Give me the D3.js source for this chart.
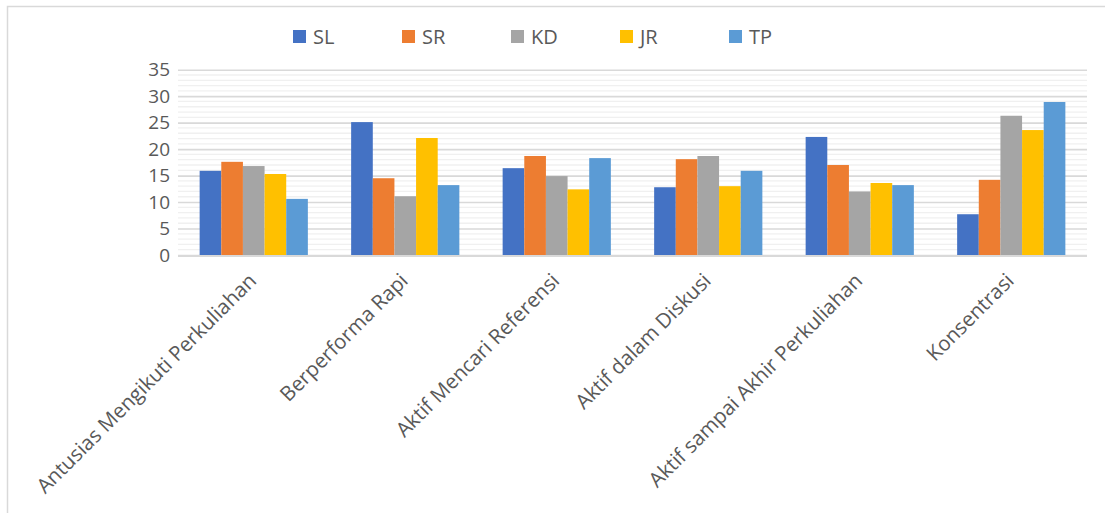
<!DOCTYPE html>
<html>
<head>
<meta charset="utf-8">
<script src="https://cdn.jsdelivr.net/npm/d3@7"></script>
<style>
  html, body { margin: 0; padding: 0; background: #fff; }
  svg { display: block; }
  text { font-family: "Open Sans", "Noto Sans", sans-serif; fill: #595959; }
</style>
</head>
<body>
<svg id="chart" width="1105" height="513"></svg>
<script>
// Aspects observed and the five groups scored for each
const categories = [
  "Antusias Mengikuti Perkuliahan",
  "Berperforma Rapi",
  "Aktif Mencari Referensi",
  "Aktif dalam Diskusi",
  "Aktif sampai Akhir Perkuliahan",
  "Konsentrasi"
];
const seriesNames = ["SL", "SR", "KD", "JR", "TP"];
const SL = [15.9, 25.1, 16.4, 12.8, 22.3, 7.7];
const SR = [17.6, 14.5, 18.7, 18.1, 17.0, 14.2];
const KD = [16.8, 11.1, 14.9, 18.7, 12.0, 26.3];
const JR = [15.3, 22.1, 12.4, 13.0, 13.6, 23.6];
const TP = [10.6, 13.2, 18.3, 15.9, 13.2, 28.9];
const yTicks = [0, 5, 10, 15, 20, 25, 30, 35];
const colors = ["#4472C4", "#ED7D31", "#A5A5A5", "#FFC000", "#5B9BD5"];

const seriesValues = [SL, SR, KD, JR, TP];
const rows = categories.map((c, i) => {
  const r = { category: c };
  seriesNames.forEach((s, j) => { r[s] = seriesValues[j][i]; });
  return r;
});

const svg = d3.select("#chart");
const plot = { left: 178, right: 1087, top: 69.7, bottom: 255 };

// outer frame (top and left edges)
svg.append("path")
  .attr("d", "M7.5,513 L7.5,6.5 L1105,6.5")
  .attr("fill", "none").attr("stroke", "#d9d9d9").attr("stroke-width", 1.5);

const x0 = d3.scaleBand().domain(categories).range([plot.left, plot.right]).padding(0);
const bw = x0.bandwidth();
const x1 = d3.scaleBand().domain(seriesNames).range([bw / 7, bw * 6 / 7]).padding(0);
const y = d3.scaleLinear().domain([0, 35]).range([plot.bottom, plot.top]);
const color = d3.scaleOrdinal().domain(seriesNames).range(colors);

// minor gridlines every 1 unit
svg.append("g")
  .selectAll("line")
  .data(d3.range(1, 35).filter(v => v % 5 !== 0))
  .join("line")
  .attr("x1", plot.left).attr("x2", plot.right)
  .attr("y1", d => y(d)).attr("y2", d => y(d))
  .attr("stroke", "#f0f0f0").attr("stroke-width", 1.3);

// major gridlines via axis
const yAxis = svg.append("g")
  .attr("transform", `translate(${plot.left},0)`)
  .call(d3.axisLeft(y).tickValues(yTicks).tickSize(-(plot.right - plot.left)).tickPadding(8));
yAxis.select(".domain").remove();
yAxis.selectAll(".tick line").attr("stroke", "#d9d9d9").attr("stroke-width", 1.6);
yAxis.selectAll(".tick text")
  .attr("font-size", 19).attr("fill", "#595959")
  .attr("font-family", "'Open Sans', 'Noto Sans', sans-serif");

// bars
svg.append("g")
  .selectAll("g")
  .data(rows)
  .join("g")
  .attr("transform", d => `translate(${x0(d.category)},0)`)
  .selectAll("rect")
  .data(d => seriesNames.map(s => ({ key: s, value: d[s] })))
  .join("rect")
  .attr("x", d => x1(d.key))
  .attr("width", x1.bandwidth())
  .attr("y", d => y(d.value))
  .attr("height", d => y(0) - y(d.value))
  .attr("fill", d => color(d.key));

// baseline
svg.append("line")
  .attr("x1", plot.left).attr("x2", plot.right)
  .attr("y1", y(0) + 1).attr("y2", y(0) + 1)
  .attr("stroke", "#d9d9d9").attr("stroke-width", 2);

// category labels, rotated
const xAxis = svg.append("g")
  .attr("transform", `translate(0,${plot.bottom})`)
  .call(d3.axisBottom(x0).tickSize(0).tickPadding(0));
xAxis.select(".domain").remove();
xAxis.selectAll(".tick text")
  .attr("font-size", 20.5).attr("fill", "#595959")
  .attr("font-family", "'Open Sans', 'Noto Sans', sans-serif")
  .attr("text-anchor", "end")
  .attr("dy", null).attr("y", null)
  .attr("transform", "translate(4,27) rotate(-45)");

// legend
const legend = svg.append("g");
const legendX = d3.scalePoint().domain(seriesNames).range([293, 729]);
const item = legend.selectAll("g").data(seriesNames).join("g")
  .attr("transform", d => `translate(${legendX(d)},30)`);
item.append("rect").attr("width", 13).attr("height", 13).attr("fill", d => color(d));
item.append("text").attr("x", 20).attr("y", 14).attr("font-size", 20).text(d => d);
</script>
</body>
</html>
